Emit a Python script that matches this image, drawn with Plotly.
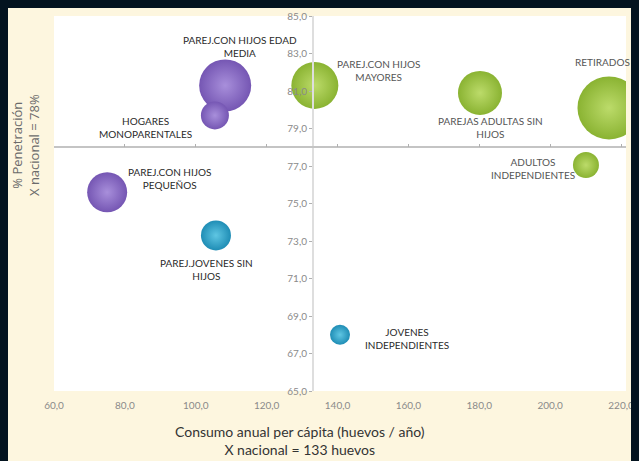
import plotly.graph_objects as go

# ---- data ----
segmentos = ["PAREJ.CON HIJOS EDAD<br>MEDIA", "HOGARES<br>MONOPARENTALES",
             "PAREJ.CON HIJOS<br>MAYORES", "PAREJAS ADULTAS SIN<br>HIJOS",
             "RETIRADOS", "ADULTOS<br>INDEPENDIENTES",
             "PAREJ.CON HIJOS<br>PEQUEÑOS", "PAREJ.JOVENES SIN<br>HIJOS",
             "JOVENES<br>INDEPENDIENTES"]
consumo = [108.3, 105.4, 133.6, 180.2, 216.6, 210.1, 75.0, 105.7, 140.7]
penetracion = [81.3, 79.7, 81.3, 80.9, 80.1, 77.05, 75.6, 73.3, 68.0]
volumen = [52, 28, 47, 44, 63, 26, 40, 30, 20]
grupo = ["morado", "morado", "verde", "verde", "verde", "verde", "morado", "azul", "azul"]

x_ticks = [60, 80, 100, 120, 140, 160, 180, 200, 220]
x_ticktext = ["60,0", "80,0", "100,0", "120,0", "140,0", "160,0", "180,0", "200,0", "220,0"]
y_ticks = [65, 67, 69, 71, 73, 75, 77, 79, 81, 83, 85]
y_ticktext = ["65,0", "67,0", "69,0", "71,0", "73,0", "75,0", "77,0", "79,0", "81,0", "83,0", "85,0"]
x_nacional = 133
y_nacional = 78
x_range = [60, 221.4]
y_range = [65, 85]

# ---- styles ----
edge = {"morado": "#7556B3", "verde": "#8AB332", "azul": "#1F8DB5"}
center = {"morado": "#A88FDB", "verde": "#BCDB6A", "azul": "#5FC6E3"}
label_color = {"morado": "#2a2a2a", "verde": "#555555", "azul": "#2a2a2a"}
offsets = [(15, 39), (-69, -12), (64, 15), (11, -35), (-6, 46), (-53, -3),
           (62, 14), (-9, -34), (67, -4)]

fig = go.Figure()
fig.add_trace(go.Scatter(
    x=consumo, y=penetracion, mode="markers",
    marker=dict(size=volumen, sizemode="diameter", sizeref=1,
                color=[edge[g] for g in grupo],
                gradient=dict(type="radial", color=[center[g] for g in grupo]),
                line=dict(width=0), opacity=1),
    cliponaxis=True, showlegend=False, hoverinfo="skip"))

for sx, sy, t, g, (dx, dy) in zip(consumo, penetracion, segmentos, grupo, offsets):
    fig.add_annotation(x=sx, y=sy, text=t, showarrow=False, xshift=dx, yshift=dy,
                       font=dict(family="Lato", size=10, color=label_color[g]),
                       align="center")

# axis titles
fig.add_annotation(xref="paper", yref="paper", x=-0.0507, y=0.656,
                   xanchor="center", yanchor="middle",
                   text="% Penetración<br>X nacional = 78%", textangle=-90,
                   showarrow=False, font=dict(family="Open Sans", size=13, color="#6b6b6b"),
                   align="center")
fig.add_annotation(xref="paper", yref="paper", x=0.430, y=-0.1307,
                   xanchor="center", yanchor="middle",
                   text="Consumo anual per cápita (huevos / año)<br>X nacional = 133 huevos",
                   showarrow=False, font=dict(family="Lato", size=14, color="#333333"),
                   align="center")

ypos = (x_nacional - x_range[0]) / (x_range[1] - x_range[0])
xpos = (y_nacional - y_range[0]) / (y_range[1] - y_range[0])

fig.update_layout(
    width=631, height=453,
    margin=dict(l=46, r=13, t=8, b=70),
    paper_bgcolor="#fdf6df", plot_bgcolor="#ffffff",
    xaxis=dict(range=x_range, tickvals=x_ticks, ticktext=x_ticktext, automargin=False,
               showgrid=False, zeroline=False, showline=False,
               ticks="outside", ticklen=5, tickcolor="rgba(0,0,0,0)",
               tickfont=dict(family="Lato", size=10, color="#8a8a8a")),
    xaxis2=dict(overlaying="x", matches="x", anchor="free", position=xpos, automargin=False,
                tickvals=x_ticks, showticklabels=False, ticks="inside", ticklen=3,
                tickcolor="#b0b0b0", showline=True, linecolor="#c4c4c4", linewidth=1.5,
                showgrid=False, zeroline=False, range=x_range),
    yaxis=dict(range=y_range, tickvals=y_ticks, ticktext=y_ticktext, automargin=False,
               anchor="free", position=ypos, showgrid=False, zeroline=False,
               showline=True, linecolor="#dedede", linewidth=1.5,
               ticks="outside", ticklen=3, tickcolor="#b0b0b0",
               tickfont=dict(family="Lato", size=10, color="#8a8a8a")),
)
fig.add_trace(go.Scatter(x=[None], y=[None], xaxis="x2", showlegend=False))

fig.write_html("out.html",
               post_script="document.body.style.background='#03131f';")
